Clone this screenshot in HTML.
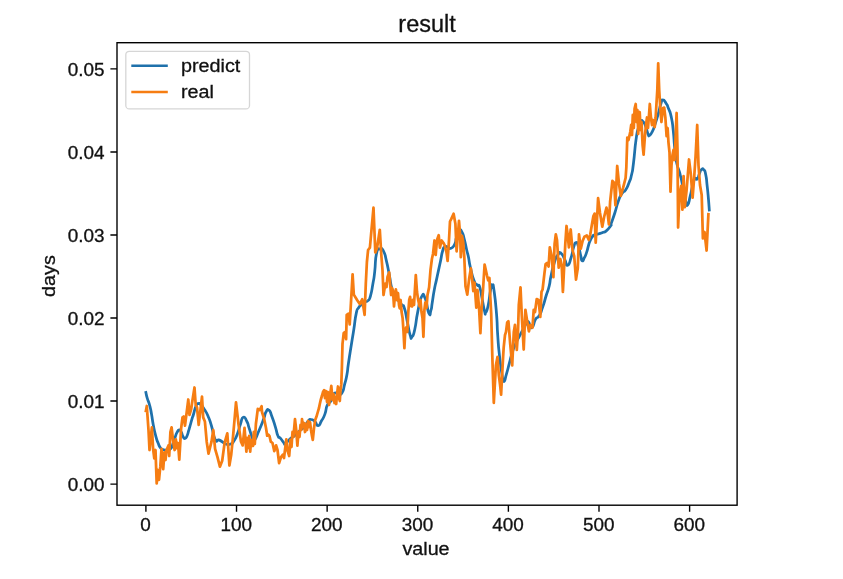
<!DOCTYPE html>
<html><head><meta charset="utf-8"><title>result</title>
<style>
html,body{margin:0;padding:0;background:#fff;}
body{width:843px;height:579px;overflow:hidden;position:relative;}
svg{position:absolute;left:0;top:0;}
text{font-family:"Liberation Sans", sans-serif;fill:#111;stroke:#111;stroke-width:0.3px;}
svg{-webkit-font-smoothing:antialiased;}
.t{opacity:0.999;}
svg{will-change:transform;filter:blur(0.35px);}
</style></head><body>
<svg width="843" height="579" viewBox="0 0 843 579">
<defs><clipPath id="ax"><rect x="117.0" y="42.7" width="620.1" height="462.5"/></clipPath></defs>
<rect x="0" y="0" width="843" height="579" fill="#fff"/>

<g clip-path="url(#ax)" fill="none" stroke-width="2.75" stroke-linejoin="round" stroke-linecap="square">
<path stroke="#1f71ab" d="M145.90,392.50C146.37,394.43 146.03,393.97 147.30,398.30C148.57,402.63 148.30,400.27 149.70,405.50C151.10,410.73 150.30,407.53 151.50,414.00C152.70,420.47 151.90,417.63 153.30,424.90C154.70,432.17 154.10,429.77 155.70,435.80C157.30,441.83 156.50,439.00 158.10,443.00C159.70,447.00 158.67,445.57 160.50,447.80C162.33,450.03 161.43,449.03 163.60,449.70C165.77,450.37 164.70,450.07 167.00,449.80C169.30,449.53 168.40,451.30 170.50,448.90C172.60,446.50 171.67,446.77 173.30,442.60C174.93,438.43 174.13,439.83 175.40,436.40C176.67,432.97 175.83,434.47 177.10,432.30C178.37,430.13 177.83,430.00 179.20,429.90C180.57,429.80 179.93,429.83 181.20,432.00C182.47,434.17 181.73,434.23 183.00,436.40C184.27,438.57 183.63,438.73 185.00,438.50C186.37,438.27 185.83,438.47 187.10,435.70C188.37,432.93 187.63,434.10 188.80,430.20C189.97,426.30 189.43,428.13 190.60,424.00C191.77,419.87 191.40,420.80 192.30,417.80C193.20,414.80 192.07,418.93 193.30,415.00C194.53,411.07 194.30,409.80 196.00,406.00C197.70,402.20 196.73,403.93 198.40,403.60C200.07,403.27 199.00,403.00 201.00,405.00C203.00,407.00 202.07,405.93 204.40,409.60C206.73,413.27 205.63,410.53 208.00,416.00C210.37,421.47 209.13,418.23 211.50,426.00C213.87,433.77 212.70,434.67 215.10,439.30C217.50,443.93 216.33,439.10 218.70,439.90C221.07,440.70 219.83,440.33 222.20,441.70C224.57,443.07 223.00,443.23 225.80,444.00C228.60,444.77 227.80,445.17 230.60,444.00C233.40,442.83 231.83,444.17 234.20,440.50C236.57,436.83 235.60,438.50 237.70,433.00C239.80,427.50 238.63,429.23 240.50,424.00C242.37,418.77 241.17,418.13 243.30,417.30C245.43,416.47 244.90,417.73 246.90,421.50C248.90,425.27 247.30,422.63 249.30,428.60C251.30,434.57 251.10,435.60 252.90,439.40C254.70,443.20 252.73,442.80 254.70,440.00C256.67,437.20 255.83,437.97 258.80,431.00C261.77,424.03 261.20,425.43 263.60,419.10C266.00,412.77 264.20,414.97 266.00,412.00C267.80,409.03 267.00,408.63 269.00,410.20C271.00,411.77 269.83,410.97 272.00,416.70C274.17,422.43 273.53,421.03 275.50,427.40C277.47,433.77 276.30,432.23 277.90,435.80C279.50,439.37 278.30,435.73 280.30,438.10C282.30,440.47 282.33,440.90 283.90,442.90C285.47,444.90 283.83,444.50 285.00,444.10C286.17,443.70 285.40,443.70 287.40,441.70C289.40,439.70 288.60,440.10 291.00,438.10C293.40,436.10 291.80,438.07 294.60,435.70C297.40,433.33 296.23,433.90 299.40,431.00C302.57,428.10 301.23,430.17 304.10,427.00C306.97,423.83 305.70,424.00 308.00,421.50C310.30,419.00 308.70,419.47 311.00,419.50C313.30,419.53 312.50,419.53 314.90,421.60C317.30,423.67 316.00,425.97 318.20,425.70C320.40,425.43 319.27,424.67 321.50,420.80C323.73,416.93 322.97,419.37 324.90,414.10C326.83,408.83 325.30,409.37 327.30,405.00C329.30,400.63 328.73,404.73 330.90,401.00C333.07,397.27 331.23,396.20 333.80,393.80C336.37,391.40 335.80,394.20 338.60,393.80C341.40,393.40 340.20,395.77 342.20,392.60C344.20,389.43 343.03,390.23 344.60,384.30C346.17,378.37 345.60,381.90 346.90,374.80C348.20,367.70 346.97,373.33 348.50,363.00C350.03,352.67 349.73,354.97 351.50,343.80C353.27,332.63 352.23,339.57 353.80,329.50C355.37,319.43 354.60,320.87 356.20,313.60C357.80,306.33 356.60,310.87 358.60,307.70C360.60,304.53 359.80,306.10 362.20,304.10C364.60,302.10 363.83,302.90 365.80,301.70C367.77,300.50 366.53,302.47 368.10,300.50C369.67,298.53 368.90,301.37 370.50,295.80C372.10,290.23 371.50,291.77 372.90,283.80C374.30,275.83 373.50,281.97 374.70,271.90C375.90,261.83 374.73,261.27 376.50,253.60C378.27,245.93 377.63,249.67 380.00,248.90C382.37,248.13 381.47,247.30 383.60,251.30C385.73,255.30 384.53,253.27 386.40,260.90C388.27,268.53 387.30,264.73 389.20,274.20C391.10,283.67 389.83,281.70 392.10,289.30C394.37,296.90 392.83,291.93 396.00,297.00C399.17,302.07 398.80,300.73 401.60,304.50C404.40,308.27 402.50,302.60 404.40,308.30C406.30,314.00 405.40,312.73 407.30,321.60C409.20,330.47 408.53,329.83 410.10,334.90C411.67,339.97 410.43,338.70 412.00,336.80C413.57,334.90 412.90,337.43 414.80,329.20C416.70,320.97 415.47,322.87 417.70,312.10C419.93,301.33 418.97,301.33 421.50,296.90C424.03,292.47 422.87,293.37 425.30,298.80C427.73,304.23 426.93,309.33 428.80,313.20C430.67,317.07 429.73,314.07 430.90,310.40C432.07,306.73 431.17,309.10 432.30,302.20C433.43,295.30 432.93,297.07 434.30,289.70C435.67,282.33 435.00,286.53 436.40,280.10C437.80,273.67 437.10,276.87 438.50,270.40C439.90,263.93 439.23,267.17 440.60,260.70C441.97,254.23 441.23,255.60 442.60,251.00C443.97,246.40 443.07,248.27 444.70,246.90C446.33,245.53 445.43,246.43 447.50,246.90C449.57,247.37 448.47,249.23 450.90,248.30C453.33,247.37 452.90,247.90 454.80,244.10C456.70,240.30 455.00,241.27 456.60,236.90C458.20,232.53 457.80,232.57 459.60,231.00C461.40,229.43 460.43,229.43 462.00,232.20C463.57,234.97 462.73,233.37 464.30,239.30C465.87,245.23 465.30,244.03 466.70,250.00C468.10,255.97 467.30,251.53 468.50,257.20C469.70,262.87 468.50,259.30 470.30,267.00C472.10,274.70 471.53,274.30 473.90,280.30C476.27,286.30 475.43,282.63 477.40,285.00C479.37,287.37 478.20,282.63 479.80,287.40C481.40,292.17 480.60,291.33 482.20,299.30C483.80,307.27 483.40,306.93 484.60,311.30C485.80,315.67 484.60,314.40 485.80,312.40C487.00,310.40 486.60,312.83 488.20,305.30C489.80,297.77 489.23,296.57 490.60,289.80C491.97,283.03 491.13,284.60 492.30,285.00C493.47,285.40 492.70,281.47 494.10,291.00C495.50,300.53 495.30,298.93 496.50,313.60C497.70,328.27 496.70,320.93 497.70,335.00C498.70,349.07 498.10,342.93 499.50,355.80C500.90,368.67 500.50,365.03 501.90,373.60C503.30,382.17 502.17,381.43 503.70,381.50C505.23,381.57 504.57,380.10 506.50,373.80C508.43,367.50 507.67,369.40 509.50,362.60C511.33,355.80 509.97,359.67 512.00,353.40C514.03,347.13 513.20,349.37 515.60,343.80C518.00,338.23 516.83,341.30 519.20,336.70C521.57,332.10 520.43,334.23 522.70,330.00C524.97,325.77 524.13,326.77 526.00,324.00C527.87,321.23 526.33,320.47 528.30,321.70C530.27,322.93 529.50,328.50 531.90,327.70C534.30,326.90 533.10,323.27 535.50,319.30C537.90,315.33 536.73,319.77 539.10,315.80C541.47,311.83 540.23,314.17 542.60,307.40C544.97,300.63 544.00,302.63 546.20,295.50C548.40,288.37 547.60,292.50 549.20,286.00C550.80,279.50 549.20,284.10 551.00,276.00C552.80,267.90 552.23,268.83 554.60,261.70C556.97,254.57 555.93,257.37 558.10,254.60C560.27,251.83 558.90,251.83 561.10,253.40C563.30,254.97 562.50,255.33 564.70,259.30C566.90,263.27 565.50,266.10 567.70,265.30C569.90,264.50 569.33,262.87 571.30,256.90C573.27,250.93 572.03,252.17 573.60,247.40C575.17,242.63 574.40,243.00 576.00,242.60C577.60,242.20 576.80,241.80 578.40,246.20C580.00,250.60 579.57,250.97 580.80,255.80C582.03,260.63 580.90,260.07 582.10,260.70C583.30,261.33 582.90,260.47 584.40,257.70C585.90,254.93 585.23,256.47 586.60,252.40C587.97,248.33 587.37,249.30 588.50,245.50C589.63,241.70 588.83,243.77 590.00,241.00C591.17,238.23 590.60,239.23 592.00,237.20C593.40,235.17 592.43,235.93 594.20,234.90C595.97,233.87 595.27,234.60 597.30,234.10C599.33,233.60 598.30,234.00 600.30,233.40C602.30,232.80 601.40,233.07 603.30,232.30C605.20,231.53 603.57,233.20 606.00,231.10C608.43,229.00 608.83,228.63 610.60,226.00C612.37,223.37 609.90,227.53 611.30,223.20C612.70,218.87 612.43,220.40 614.80,213.00C617.17,205.60 616.00,207.53 618.40,201.00C620.80,194.47 619.60,197.07 622.00,193.40C624.40,189.73 623.23,193.63 625.60,190.00C627.97,186.37 627.13,187.50 629.10,182.50C631.07,177.50 630.03,181.50 631.50,175.00C632.97,168.50 632.00,174.70 633.50,163.00C635.00,151.30 634.37,151.63 636.00,139.90C637.63,128.17 636.80,133.83 638.40,127.80C640.00,121.77 639.20,123.80 640.80,121.80C642.40,119.80 641.57,120.20 643.20,121.80C644.83,123.40 644.10,122.57 645.70,126.60C647.30,130.63 646.73,131.03 648.00,133.90C649.27,136.77 648.03,136.03 649.50,135.20C650.97,134.37 650.50,135.20 652.40,131.40C654.30,127.60 653.30,129.50 655.20,123.80C657.10,118.10 656.20,120.97 658.10,114.30C660.00,107.63 659.33,108.57 660.90,103.80C662.47,99.03 661.00,100.03 662.80,100.00C664.60,99.97 664.40,100.83 666.30,103.70C668.20,106.57 666.83,104.13 668.50,108.60C670.17,113.07 669.70,109.63 671.30,117.10C672.90,124.57 672.23,121.37 673.30,131.00C674.37,140.63 673.67,137.33 674.50,146.00C675.33,154.67 674.90,150.67 675.80,157.00C676.70,163.33 676.07,160.30 677.20,165.00C678.33,169.70 678.10,167.43 679.20,171.10C680.30,174.77 679.63,172.53 680.50,176.00C681.37,179.47 680.70,176.23 681.80,181.50C682.90,186.77 682.50,185.33 683.80,191.80C685.10,198.27 684.40,196.57 685.70,200.90C687.00,205.23 686.17,206.53 687.70,204.80C689.23,203.07 688.70,201.97 690.30,195.70C691.90,189.43 691.00,191.60 692.50,186.00C694.00,180.40 693.17,181.27 694.80,178.90C696.43,176.53 695.90,180.53 697.40,178.90C698.90,177.27 698.00,177.03 699.30,174.00C700.60,170.97 699.77,171.20 701.30,169.80C702.83,168.40 702.40,168.07 703.90,169.80C705.40,171.53 704.73,169.83 705.80,175.00C706.87,180.17 706.23,177.53 707.10,185.30C707.97,193.07 707.67,190.07 708.40,198.30C709.13,206.53 709.00,206.10 709.30,210.00"/>
<polyline stroke="#f67d12" points="145.90,411.00 146.80,406.00 148.50,430.00 149.50,450.00 150.50,440.00 151.90,427.40 153.10,448.80 154.30,458.40 155.50,450.00 156.70,483.40 158.00,470.00 159.00,479.80 160.30,466.70 161.50,448.80 163.20,469.10 164.40,452.40 165.50,460.00 166.50,450.00 168.60,445.30 169.20,456.00 170.40,432.20 171.60,427.40 173.00,440.00 174.60,450.00 175.80,439.30 177.00,448.00 178.00,443.00 179.30,459.60 181.10,428.60 182.50,417.40 183.70,416.50 185.00,425.70 188.30,399.50 189.50,414.90 191.20,409.00 192.40,400.80 194.50,387.50 195.70,405.00 197.00,407.40 198.70,424.80 202.00,396.60 203.20,417.40 204.90,421.50 206.70,441.70 208.50,453.60 211.50,441.70 213.30,430.00 215.10,448.80 217.50,457.20 219.90,466.70 222.20,460.80 224.60,442.90 227.30,433.30 229.40,465.50 231.20,454.80 233.00,436.90 234.50,420.00 236.00,402.40 238.60,425.00 241.00,441.70 242.70,445.40 244.50,427.80 245.50,440.00 246.40,451.70 247.30,438.00 248.20,448.00 249.20,436.00 250.20,451.70 251.20,440.00 252.10,441.70 253.00,446.00 253.80,432.00 254.80,444.00 255.90,424.00 257.80,408.90 259.70,410.10 261.60,406.30 262.00,412.00 264.20,419.10 266.00,428.00 267.20,435.70 268.40,434.60 269.50,436.00 270.80,441.70 272.50,443.00 274.30,451.20 276.10,445.30 277.50,450.00 279.10,463.10 281.00,457.00 282.70,454.80 284.00,458.00 286.30,439.30 287.40,450.00 289.20,456.00 290.40,440.00 291.50,447.00 292.50,432.00 293.40,437.00 295.00,419.10 296.20,430.00 297.40,445.70 298.50,432.00 299.50,437.00 300.50,425.00 301.30,430.00 302.00,419.10 303.00,427.00 304.00,423.00 305.00,432.00 306.00,424.00 307.00,430.00 308.00,421.00 309.00,427.00 310.00,422.00 311.00,430.00 312.00,436.00 312.80,439.90 314.00,428.00 315.20,420.00 316.50,416.60 317.80,412.00 319.00,408.00 319.80,404.00 320.70,400.00 321.90,396.00 323.00,392.00 324.10,390.10 325.00,398.00 326.00,391.00 327.00,402.00 328.00,392.00 329.00,405.00 330.10,395.00 331.30,385.90 332.50,400.00 333.50,394.00 334.50,403.00 335.50,397.00 336.20,404.00 337.00,395.00 338.00,386.50 339.00,398.00 339.80,401.00 340.50,390.00 341.30,384.40 341.90,367.70 342.50,343.80 343.70,333.10 345.00,332.00 346.10,339.10 346.70,314.80 348.50,313.60 349.70,324.40 352.60,274.30 353.80,294.60 357.40,300.50 359.80,304.10 362.20,299.30 364.60,314.80 365.80,283.80 366.90,262.00 368.10,250.00 369.90,247.70 373.50,207.70 375.30,252.40 377.10,247.70 379.80,229.80 381.30,255.00 382.50,270.00 383.50,295.00 385.40,283.60 386.50,287.00 387.50,277.00 389.20,272.30 390.20,285.00 391.10,295.00 392.00,288.00 393.00,291.20 394.00,306.40 395.00,295.00 395.90,289.30 397.00,300.00 398.00,293.00 399.00,305.00 399.70,308.30 400.60,300.00 401.60,312.10 402.60,318.00 403.50,331.10 404.40,348.20 405.30,330.00 406.30,327.30 407.30,332.00 408.30,312.00 409.20,300.00 410.10,296.90 411.00,306.00 412.00,306.40 413.00,300.00 414.00,305.00 415.80,275.10 417.00,292.00 418.20,300.00 419.60,306.40 420.50,300.00 421.50,312.00 422.50,318.00 423.40,336.80 424.40,310.00 425.30,302.60 426.50,308.00 427.50,295.00 429.10,287.40 430.50,270.00 431.90,259.00 433.00,254.00 434.50,240.50 435.70,254.80 437.00,240.00 438.70,235.20 439.90,247.70 441.70,240.50 443.50,243.00 444.70,245.30 446.50,252.40 447.60,260.80 449.00,240.00 450.00,221.50 451.20,219.10 453.60,213.70 455.40,223.80 456.60,251.30 459.00,220.90 460.20,236.00 460.80,257.20 462.00,235.80 463.20,242.00 464.30,257.20 465.50,286.20 467.30,294.60 469.10,279.10 470.90,268.30 472.00,278.00 473.30,291.00 474.50,282.60 476.30,307.70 477.50,290.00 479.00,307.00 480.40,333.10 481.50,310.00 483.00,290.00 484.60,264.60 487.00,275.50 488.20,280.30 489.40,277.90 490.30,297.00 491.20,313.60 492.30,355.80 493.80,402.80 495.90,365.50 497.50,357.00 498.80,375.00 500.10,385.00 501.10,394.60 503.20,355.20 503.70,347.40 505.00,335.00 506.00,331.90 507.20,322.40 508.40,321.20 510.20,343.80 512.20,365.40 513.80,331.90 515.00,324.80 516.80,349.80 518.00,331.90 518.80,305.00 520.50,287.30 521.80,315.80 523.70,349.50 525.40,309.80 527.00,320.00 528.90,331.30 530.50,325.00 532.50,327.70 533.70,309.80 535.00,312.00 536.70,299.10 538.50,300.00 540.30,316.90 541.50,291.90 542.60,289.50 544.40,273.60 545.60,264.10 547.00,263.00 548.60,266.50 549.80,247.40 551.60,255.80 553.40,277.20 554.60,243.80 555.80,234.30 557.00,240.00 558.70,267.70 560.30,259.00 561.70,265.30 562.90,291.90 565.30,243.80 566.50,226.00 567.70,235.00 568.90,247.40 570.70,229.50 572.50,250.00 574.20,256.00 576.00,279.60 577.80,268.00 579.00,234.30 580.80,248.60 582.60,241.00 584.40,236.70 586.80,235.50 588.80,240.00 590.30,234.30 591.50,227.00 593.40,216.00 594.60,213.60 595.70,242.60 597.00,220.00 598.10,198.10 600.00,213.00 602.30,226.70 604.10,217.00 606.50,207.70 607.70,214.00 608.90,224.40 610.10,202.00 612.40,180.90 614.20,183.00 615.40,205.30 617.20,166.00 619.00,184.00 620.80,195.80 623.20,187.40 625.60,178.00 626.30,168.00 627.30,137.70 628.50,140.00 630.30,131.70 631.20,125.00 632.00,135.00 632.80,115.00 633.80,128.00 634.60,108.50 635.70,104.00 636.60,122.00 637.40,110.00 638.20,134.00 639.00,118.00 639.70,112.00 640.60,130.00 641.50,122.00 642.60,145.00 643.60,154.60 645.00,135.00 646.00,125.00 647.00,117.50 648.00,128.00 649.00,115.00 649.80,104.00 651.00,118.00 652.00,125.00 653.00,120.00 653.70,124.00 654.70,127.00 655.60,118.00 657.30,90.00 658.20,63.30 659.20,90.00 660.40,110.00 661.40,122.00 663.00,108.00 664.20,107.60 665.40,118.00 666.60,136.10 667.60,128.00 668.50,142.80 669.50,152.30 670.50,191.70 671.50,165.00 672.50,155.00 673.50,150.00 674.50,160.00 675.50,140.00 676.60,113.00 677.50,150.00 678.10,227.50 679.50,195.00 681.20,185.80 682.40,209.60 683.60,176.20 684.80,207.20 686.60,190.00 687.80,175.00 689.00,159.50 690.80,173.80 692.60,197.70 694.00,180.00 695.60,156.00 697.20,125.00 698.50,165.50 700.00,185.00 701.70,195.00 702.90,238.40 704.50,232.00 706.60,250.50 708.40,214.20"/>
</g>
<rect x="117.0" y="42.7" width="620.10" height="462.50" fill="none" stroke="#000" stroke-width="1.39" stroke-linejoin="miter"/>
<path d="M145.90,505.20V511.80M236.52,505.20V511.80M327.14,505.20V511.80M417.76,505.20V511.80M508.38,505.20V511.80M599.00,505.20V511.80M689.62,505.20V511.80M117.00,484.10H110.40M117.00,401.06H110.40M117.00,318.02H110.40M117.00,234.98H110.40M117.00,151.94H110.40M117.00,68.90H110.40" stroke="#000" stroke-width="1.39" fill="none"/>
<text class="t" x="0" y="0" font-size="17.5" text-anchor="middle" transform="translate(145.60,531.00) scale(1.08,1)">0</text>
<text class="t" x="0" y="0" font-size="17.5" text-anchor="middle" transform="translate(236.22,531.00) scale(1.08,1)">100</text>
<text class="t" x="0" y="0" font-size="17.5" text-anchor="middle" transform="translate(326.84,531.00) scale(1.08,1)">200</text>
<text class="t" x="0" y="0" font-size="17.5" text-anchor="middle" transform="translate(417.46,531.00) scale(1.08,1)">300</text>
<text class="t" x="0" y="0" font-size="17.5" text-anchor="middle" transform="translate(508.08,531.00) scale(1.08,1)">400</text>
<text class="t" x="0" y="0" font-size="17.5" text-anchor="middle" transform="translate(598.70,531.00) scale(1.08,1)">500</text>
<text class="t" x="0" y="0" font-size="17.5" text-anchor="middle" transform="translate(689.32,531.00) scale(1.08,1)">600</text>
<text class="t" x="0" y="0" font-size="17.5" text-anchor="end" transform="translate(104.50,490.90) scale(1.08,1)">0.00</text>
<text class="t" x="0" y="0" font-size="17.5" text-anchor="end" transform="translate(104.50,407.86) scale(1.08,1)">0.01</text>
<text class="t" x="0" y="0" font-size="17.5" text-anchor="end" transform="translate(104.50,324.82) scale(1.08,1)">0.02</text>
<text class="t" x="0" y="0" font-size="17.5" text-anchor="end" transform="translate(104.50,241.78) scale(1.08,1)">0.03</text>
<text class="t" x="0" y="0" font-size="17.5" text-anchor="end" transform="translate(104.50,158.74) scale(1.08,1)">0.04</text>
<text class="t" x="0" y="0" font-size="17.5" text-anchor="end" transform="translate(104.50,75.70) scale(1.08,1)">0.05</text>
<text class="t" x="0" y="0" font-size="23.0" text-anchor="middle" transform="translate(427.00,31.50) scale(1.02,1)">result</text>
<text class="t" x="0" y="0" font-size="18.3" text-anchor="middle" transform="translate(426.00,554.60) scale(1.08,1)">value</text>
<text class="t" x="0" y="0" font-size="18.3" text-anchor="middle" transform="translate(54.60,276.10) rotate(-90) scale(1.08,1)">days</text>
<rect x="125.8" y="51.3" width="123.7" height="57.6" rx="3.5" ry="3.5" fill="#fff" fill-opacity="0.8" stroke="#d6d6d6" stroke-width="1.3"/>
<path d="M132.6,65.8H166.5" stroke="#1f71ab" stroke-width="2.6" stroke-linecap="square"/>
<path d="M132.6,92.0H166.5" stroke="#f67d12" stroke-width="2.6" stroke-linecap="square"/>
<text class="t" x="0" y="0" font-size="18.3" text-anchor="start" transform="translate(181.00,71.90) scale(1.08,1)">predict</text>
<text class="t" x="0" y="0" font-size="18.3" text-anchor="start" transform="translate(181.00,98.10) scale(1.08,1)">real</text>
</svg>
</body></html>
